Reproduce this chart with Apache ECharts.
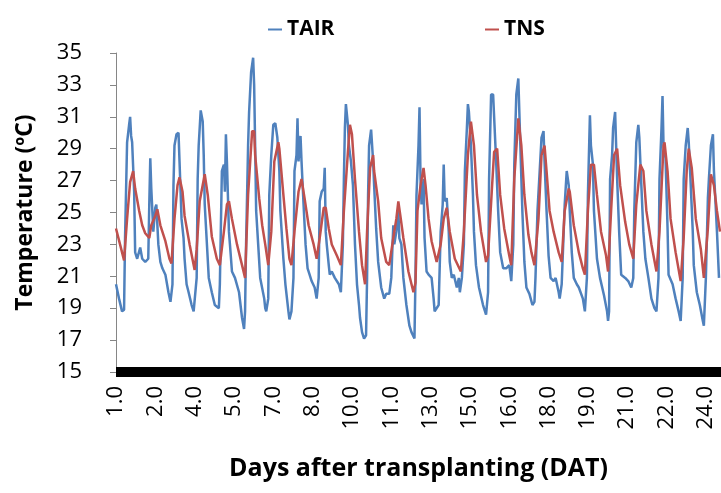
<!DOCTYPE html>
<html>
<head>
<meta charset="utf-8">
<script src="https://cdn.jsdelivr.net/npm/echarts@6.0.0/dist/echarts.min.js"></script>
<style>
  html, body { margin: 0; padding: 0; background: #fff; }
  #main { width: 721px; height: 493px; }
</style>
</head>
<body>
<div id="main"></div>
<script>
// hours since start of record, temperature in ºC
const tair = [
  [0,20.5],[3,19.6],[6,18.8],[8,18.9],[9,23.5],[11,29.4],[13,30.5],[14,31.0],[15,29.8],[16,29.4],[18,26.3],[19,22.5],[21,22.1],[24,22.8],[26,22.1],[29,21.9],[32,22.1],[33,25.5],[34,28.4],[35,26.5],[37,23.8],[39,25.3],[40,25.5],[42,23.0],[44,21.9],[46,21.5],[49,21.1],[52,20.0],[54,19.4],[56,20.5],[57,26.7],[58,29.2],[60,29.9],[62,30.0],[63,28.2],[65,24.6],[67,23.4],[68,22.1],[70,20.5],[72,20.0],[75,19.2],[77,18.8],[78,18.9],[80,20.9],[81,27.1],[82,29.2],[84,31.4],[86,30.7],[87,28.6],[88,25.5],[92,20.9],[95,20.0],
  [98,19.2],[102,19.0],[103,20.5],[105,27.6],[107,28.0],[108,26.3],[109,29.9],[110,28.2],[112,23.8],[113,23.0],[115,21.3],[118,20.9],[122,20.0],[125,18.4],[127,17.7],[128,18.8],[129,23.0],[131,29.2],[132,31.3],[134,33.8],[136,34.7],[137,33.0],[138,29.2],[139,25.1],[141,23.0],[143,20.9],[147,19.6],[148,19.0],[149,18.8],[151,19.6],[152,26.1],[154,28.6],[156,30.5],[158,30.6],[160,29.7],[162,27.6],[163,25.1],[166,22.1],[168,20.5],[171,18.8],[172,18.3],[174,18.8],[176,20.9],[177,27.6],[179,28.6],[180,30.9],[181,28.2],[183,29.8],[184,28.2],[186,25.5],[188,23.0],[190,21.5],[192,21.1],
  [194,20.7],[197,20.3],[199,19.6],[201,20.9],[202,25.7],[204,26.3],[206,26.5],[207,27.8],[208,23.8],[209,23.0],[211,21.7],[212,21.1],[214,21.3],[217,20.9],[221,20.5],[223,20.0],[225,23.0],[226,27.1],[227,30.3],[228,31.8],[230,30.5],[231,29.2],[233,28.2],[235,26.7],[237,23.0],[239,20.5],[241,19.2],[242,18.4],[244,17.5],[246,17.1],[248,17.3],[249,20.9],[250,26.1],[251,29.2],[253,30.2],[255,28.2],[256,26.7],[258,24.0],[260,21.9],[263,20.3],[266,19.6],[268,19.9],[271,19.9],[273,20.9],[275,24.2],[276,23.0],[278,23.8],[280,25.1],[281,23.4],[283,23.0],[285,20.9],[288,19.2],[291,17.9],
  [293,17.5],[296,17.1],[297,20.9],[298,26.1],[300,29.2],[301,31.6],[302,27.1],[303,25.5],[305,27.1],[306,23.4],[308,21.3],[310,21.1],[313,20.9],[315,19.6],[316,18.8],[320,19.2],[322,23.8],[324,25.5],[325,28.0],[326,25.7],[328,25.9],[330,23.8],[331,21.9],[333,20.9],[335,21.1],[338,20.3],[340,20.9],[341,20.0],[343,20.9],[345,23.0],[346,27.6],[348,30.3],[349,31.8],[350,31.3],[352,29.2],[354,26.1],[355,23.8],[357,21.7],[360,20.3],[364,19.2],[367,18.6],[369,20.0],[370,27.1],[372,32.4],[374,32.4],[375,32.5],[377,28.2],[379,25.1],[381,22.5],[384,21.5],[387,21.5],[390,21.7],
  [392,20.7],[394,23.0],[395,28.0],[397,32.4],[399,33.4],[401,29.2],[403,25.1],[405,21.9],[407,20.3],[410,19.9],[413,19.2],[415,19.4],[416,20.9],[418,25.1],[420,27.4],[422,29.7],[424,30.1],[425,28.2],[427,25.1],[429,22.3],[431,20.9],[434,20.7],[436,20.9],[439,20.0],[440,19.6],[442,20.5],[444,23.8],[445,25.5],[447,27.6],[449,26.7],[450,25.1],[452,22.5],[454,20.9],[457,20.5],[459,20.3],[463,19.6],[465,18.8],[467,20.9],[468,26.1],[470,31.1],[471,29.2],[473,28.0],[474,25.1],[477,22.1],[480,20.9],[484,19.8],[487,18.8],[488,18.2],[489,18.8],
  [490,27.1],[492,28.6],[493,30.3],[495,31.3],[497,27.1],[499,23.8],[501,21.1],[505,20.9],[508,20.7],[511,20.3],[513,20.9],[514,25.1],[516,29.4],[518,30.5],[519,29.7],[521,26.7],[523,23.8],[525,22.1],[528,20.9],[531,19.6],[534,19.0],[536,18.8],[538,20.9],[539,27.1],[541,30.3],[542,32.3],[543,29.2],[545,28.4],[547,24.0],[548,21.1],[552,20.5],[555,19.6],[558,18.8],[560,18.2],[562,20.9],[563,27.1],[565,29.2],[567,30.3],[568,29.4],[570,26.7],[572,23.8],[573,21.7],[576,20.0],[579,19.2],[582,18.2],[583,17.9],[585,20.9],[587,25.9],[588,27.1],[590,29.2],[592,29.9],[593,27.6],[596,23.8],[598,20.9]
];

const tns = [
  [0,24.0],[4,23.0],[8,22.0],[11,24.6],[14,26.9],[17,27.6],[19,26.5],[23,25.1],[26,24.2],[29,23.7],[33,23.4],[35,24.2],[39,24.8],[41,25.2],[44,24.2],[49,23.2],[53,22.1],[55,21.8],[58,24.6],[61,26.7],[63,27.2],[66,26.3],[68,24.8],[73,23.0],[78,21.4],[80,22.7],[83,25.7],[88,27.4],[91,26.1],[95,23.5],
  [100,22.1],[103,21.7],[107,23.8],[110,25.5],[112,25.7],[115,24.6],[120,23.0],[125,21.7],[128,20.9],[131,26.1],[135,30.1],[137,30.1],[138,28.6],[142,25.9],[145,24.2],[148,23.0],[151,21.7],[154,23.8],[157,28.2],[161,29.4],[162,29.0],[166,26.1],[169,24.0],[172,22.1],[174,21.7],[177,23.8],[181,26.3],[184,27.1],[187,25.9],[191,24.2],[196,23.0],
  [199,22.1],[202,23.4],[206,25.3],[208,25.3],[211,24.0],[214,23.0],[219,22.3],[223,21.7],[226,25.1],[230,28.8],[232,30.5],[234,29.9],[237,27.1],[241,23.8],[244,21.7],[247,20.5],[249,23.8],[252,27.8],[255,28.6],[256,27.6],[260,25.7],[263,23.4],[268,21.9],[271,21.7],[275,23.4],[278,24.6],[280,25.7],[282,24.8],[285,23.4],[290,21.3],[295,20.0],
  [297,20.6],[299,25.1],[302,26.7],[305,27.8],[307,26.7],[310,24.6],[313,23.2],[318,21.9],[322,23.0],[325,24.6],[328,25.3],[331,23.8],[336,22.1],[342,21.3],[345,23.8],[349,28.6],[352,30.7],[355,29.2],[358,26.1],[362,23.8],[367,21.9],[369,22.3],[373,26.7],[375,28.8],[378,29.0],[381,26.1],[385,24.0],[390,22.3],
  [392,21.7],[395,27.1],[399,30.9],[402,29.2],[405,26.1],[409,23.6],[412,22.5],[415,21.7],[419,24.6],[422,28.6],[425,29.2],[427,27.6],[430,25.1],[434,23.8],[439,22.5],[442,21.9],[445,25.1],[449,26.5],[450,26.3],[454,24.2],[459,22.5],[463,21.5],[465,21.1],[468,25.1],[471,28.0],[474,28.0],[477,26.1],[481,23.8],[486,22.3],[488,21.3],
  [491,25.1],[494,28.6],[497,29.0],[500,26.7],[505,24.4],[509,23.0],[513,22.1],[516,25.5],[520,28.0],[523,27.6],[526,25.1],[531,23.0],[536,21.3],[539,23.8],[543,29.2],[544,29.4],[547,27.6],[550,24.6],[555,22.5],[560,20.7],[563,23.4],[566,27.6],[568,29.0],[571,27.8],[575,24.6],[580,22.7],[583,20.9],[587,24.0],[590,27.4],[593,26.7],[596,25.1],[599,23.8]
];

// DAT tick labels, one every 39 h
const dayLabels = ['1.0', '2.0', '4.0', '5.0', '7.0', '8.0', '10.0', '11.0', '13.0', '15.0', '16.0', '18.0', '19.0', '21.0', '22.0', '24.0'];
const labelStep = 39;

const font = 'Open Sans';
const chart = echarts.init(document.getElementById('main'), null, { renderer: 'canvas' });

const legendBase = {
  top: 19,
  padding: 0,
  icon: 'rect',
  itemWidth: 14,
  itemHeight: 2,
  textStyle: { fontFamily: font, fontWeight: 'bold', fontSize: 21, color: '#000' },
};

chart.setOption({
  backgroundColor: '#fff',
  animation: false,
  legend: [
    { ...legendBase, left: 268, data: ['TAIR'] },
    { ...legendBase, left: 485, data: ['TNS'] },
  ],
  grid: { left: 116, top: 53, width: 606, bottom: 121 },
  xAxis: {
    type: 'value',
    min: 0,
    max: 600,
    interval: labelStep,
    name: 'Days after transplanting (DAT)',
    nameLocation: 'middle',
    nameGap: 84,
    nameTextStyle: { fontFamily: font, fontWeight: 'bold', fontSize: 25, color: '#000' },
    axisLine: { lineStyle: { color: '#000', width: 10, cap: 'butt' } },
    axisTick: { show: false },
    splitLine: { show: false },
    axisLabel: {
      rotate: 90,
      margin: 14,
      showMaxLabel: false,
      fontFamily: font,
      fontSize: 22,
      color: '#000',
      formatter: v => (v % labelStep === 0 ? dayLabels[v / labelStep] || '' : ''),
    },
  },
  yAxis: {
    type: 'value',
    min: 15,
    max: 35,
    interval: 2,
    name: 'Temperature (ºC)',
    nameLocation: 'middle',
    nameGap: 79,
    nameTextStyle: { fontFamily: font, fontWeight: 'bold', fontSize: 23, color: '#000' },
    axisLine: { show: true, lineStyle: { color: '#868686', width: 1 } },
    axisTick: { show: true, length: 6, lineStyle: { color: '#868686' } },
    splitLine: { show: false },
    axisLabel: { margin: 34, fontFamily: font, fontSize: 22, color: '#000' },
  },
  series: [
    {
      name: 'TAIR',
      type: 'line',
      data: tair,
      showSymbol: false,
      color: '#4f81bd',
      lineStyle: { width: 2.5, color: '#4f81bd' },
    },
    {
      name: 'TNS',
      type: 'line',
      data: tns,
      showSymbol: false,
      color: '#c0504d',
      lineStyle: { width: 2.5, color: '#c0504d' },
    },
  ],
});
</script>
</body>
</html>
